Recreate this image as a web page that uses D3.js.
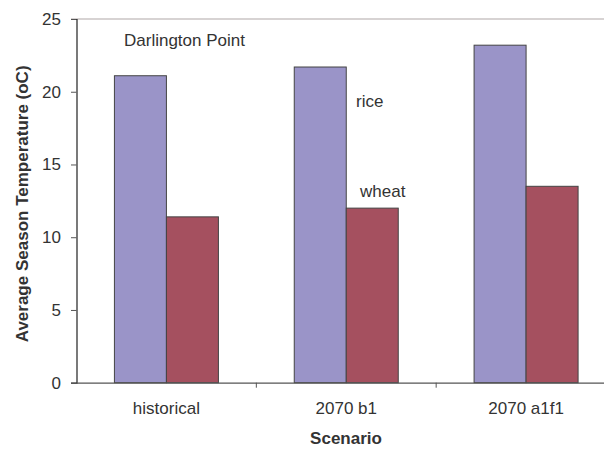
<!DOCTYPE html>
<html><head><meta charset="utf-8">
<script src="https://cdn.jsdelivr.net/npm/d3@7"></script>
<style>body{margin:0;background:#fff}svg{display:block}text{font-family:"Liberation Sans",Arial,sans-serif;fill:#333}</style>
</head><body><div id="chart"></div>
<script>
const categories = ["historical", "2070 b1", "2070 a1f1"];
const seriesNames = ["rice", "wheat"];
const rice = [21.1, 21.7, 23.2];
const wheat = [11.4, 12.0, 13.5];
const yTicks = [0, 5, 10, 15, 20, 25];
const colors = ["#9a94c8", "#a5505f"];

const W = 604, H = 450;
const FS = 17;
const m = {left: 76.5, top: 19, right: -12, bottom: 67};
const svg = d3.select("#chart").append("svg").attr("width", W).attr("height", H);
const x0 = d3.scaleBand().domain(categories).range([m.left, W - m.right]).paddingInner(0).paddingOuter(0);
const x1 = d3.scaleBand().domain(seriesNames).range([0, 104]);
const y = d3.scaleLinear().domain([0, 25]).range([H - m.bottom - 0.3, m.top]);

// top border line
svg.append("line").attr("x1", 71).attr("x2", W).attr("y1", y(25)).attr("y2", y(25))
  .attr("stroke", "#b0a8a8").attr("stroke-width", 1.2);

const data = categories.map((c, i) => ({cat: c, vals: [rice[i], wheat[i]]}));
const g = svg.append("g");
data.forEach(d => {
  const cx = x0(d.cat) + x0.bandwidth() / 2 - 52;
  d.vals.forEach((v, j) => {
    g.append("rect")
      .attr("x", cx + x1(seriesNames[j]))
      .attr("y", y(v))
      .attr("width", x1.bandwidth())
      .attr("height", y(0) - y(v))
      .attr("fill", colors[j])
      .attr("stroke", "#444").attr("stroke-width", 1);
  });
});

// y axis
const ya = svg.append("g").attr("transform", `translate(${m.left},0)`)
  .call(d3.axisLeft(y).tickValues(yTicks).tickSize(5.5).tickPadding(10));
ya.select(".domain").attr("stroke", "#222").attr("stroke-width", 1.2);
ya.selectAll(".tick line").attr("stroke", "#555");
ya.selectAll(".tick text").attr("font-size", FS).attr("fill", "#333").style("font-family", '"Liberation Sans",Arial,sans-serif');

// x axis
const xa = svg.append("g").attr("transform", `translate(0,${y(0)})`)
  .call(d3.axisBottom(x0).tickSize(0).tickPadding(0));
xa.select(".domain").attr("stroke", "#555").attr("stroke-width", 1.2);
xa.selectAll(".tick text").attr("font-size", FS).attr("fill", "#333").attr("dy", null).attr("y", 31)
  .style("font-family", '"Liberation Sans",Arial,sans-serif');
// category separator ticks
xa.selectAll(".sep").data(categories.slice(1)).enter().append("line")
  .attr("x1", d => x0(d)).attr("x2", d => x0(d)).attr("y1", 0).attr("y2", 5)
  .attr("stroke", "#555");

// titles
svg.append("text").attr("x", 346).attr("y", 443.5).attr("text-anchor", "middle")
  .attr("font-size", FS).attr("font-weight", "bold").text("Scenario");
svg.append("text").attr("transform", `translate(28,${(y(0) + y(25)) / 2 + 3}) rotate(-90)`)
  .attr("text-anchor", "middle").attr("font-size", FS).attr("font-weight", "bold")
  .text("Average Season Temperature (oC)");

// annotations
svg.append("text").attr("x", 124).attr("y", 46).attr("font-size", FS).text("Darlington Point");
svg.append("text").attr("x", 356).attr("y", 107).attr("font-size", FS).text(seriesNames[0]);
svg.append("text").attr("x", 360).attr("y", 197).attr("font-size", FS).text(seriesNames[1]);
</script></body></html>
